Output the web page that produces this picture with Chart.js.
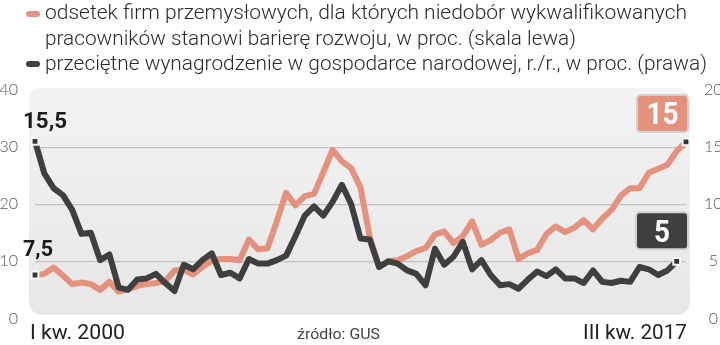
<!DOCTYPE html>
<html>
<head>
<meta charset="utf-8">
<script src="https://cdn.jsdelivr.net/npm/chart.js@4/dist/chart.umd.min.js"></script>
<style>
  html, body { margin: 0; padding: 0; background: #fff; }
  #wrap { position: relative; width: 720px; height: 345px; overflow: hidden;
          font-family: Roboto, 'Noto Sans', sans-serif; color: #333; }
  #c { position: absolute; left: 0; top: 0; }
  .t { position: absolute; white-space: nowrap; transform-origin: left top; }
  .lg { left: 45px; font-size: 20px; line-height: 24px; font-weight: 300; color: #2a2a2a; }
  .sw { position: absolute; left: 26px; width: 14px; height: 6px; border-radius: 3px; }
  .ax { font-size: 20px; line-height: 24px; color: #222; }
  .src { font-size: 14px; line-height: 18px; color: #444; }
</style>
</head>
<body>
<div id="wrap">
  <canvas id="c" width="720" height="345"></canvas>
  <span class="sw" style="top:11px;background:#e4917d;"></span>
  <div class="t lg" data-w="642" style="top:0;">odsetek firm przemysłowych, dla których niedobór wykwalifikowanych</div>
  <div class="t lg" data-w="531" style="top:26px;">pracowników stanowi barierę rozwoju, w proc. (skala lewa)</div>
  <span class="sw" style="top:61px;background:#3f3f3f;"></span>
  <div class="t lg" data-w="662" style="top:51px;">przeciętne wynagrodzenie w gospodarce narodowej, r./r., w proc. (prawa)</div>
  <div class="t ax" data-w="95" style="left:30px;top:320px;">I kw. 2000</div>
  <div class="t ax" data-w="104" style="left:583px;top:320px;">III kw. 2017</div>
  <div class="t src" data-w="83" style="left:297px;top:325px;">źródło: GUS</div>
</div>
<script>
// kwartały I 2000 – III 2017
const years = [2000, 2001, 2002, 2003, 2004, 2005, 2006, 2007, 2008, 2009, 2010, 2011, 2012, 2013, 2014, 2015, 2016, 2017];
const quarters = ['I', 'II', 'III', 'IV'];

// odsetek firm, dla których niedobór pracowników jest barierą (skala lewa, %)
const odsetek = [
  7.6, 7.8, 8.9, 7.5, 6.0, 6.3, 6.0, 5.0, 6.4, 4.7,
  5.1, 5.7, 6.0, 6.2, 6.5, 8.4, 8.5, 7.7, 9.0, 10.1,
  10.4, 10.4, 10.2, 13.8, 12.1, 12.3, 17.0, 22.0, 19.8, 21.4,
  21.8, 25.6, 29.5, 27.5, 26.3, 22.9, 14.2, 9.0, 10.0, 10.2,
  10.9, 11.8, 12.3, 14.7, 15.2, 13.2, 14.4, 17.0, 12.9, 13.7,
  15.0, 15.6, 10.4, 11.4, 12.0, 14.8, 16.1, 15.1, 15.9, 17.2,
  15.6, 17.5, 19.0, 21.5, 22.8, 22.8, 25.5, 26.2, 26.9, 29.3,
  30.9
];

// przeciętne wynagrodzenie r./r. (skala prawa, %), do II kw. 2017
const wynagrodzenie = [
  15.5, 12.7, 11.4, 10.8, 9.5, 7.4, 7.5, 5.1, 5.6, 2.7,
  2.5, 3.4, 3.5, 3.9, 3.1, 2.4, 4.7, 4.3, 5.1, 5.7,
  3.8, 4.0, 3.5, 5.2, 4.8, 4.8, 5.1, 5.5, 7.2, 9.0,
  9.8, 9.0, 10.2, 11.7, 10.0, 7.0, 6.9, 4.5, 5.0, 4.8,
  4.2, 3.9, 2.9, 6.1, 4.7, 5.4, 6.7, 4.3, 5.1, 3.8,
  2.9, 3.0, 2.6, 3.4, 4.1, 3.7, 4.3, 3.5, 3.5, 3.1,
  4.2, 3.2, 3.1, 3.3, 3.2, 4.5, 4.3, 3.8, 4.2, 5.0
];

const leftTicks = [0, 10, 20, 30, 40];
const rightTicks = [0, 5, 10, 15, 20];

const labels = [];
years.forEach((y) => quarters.forEach((q) => labels.push(q + ' kw. ' + y)));
labels.length = odsetek.length;

const ORANGE = '#e4917d';
const DARK = '#3f3f3f';
const FONT = "Roboto, 'Noto Sans', sans-serif";

// ściśnięcie tekstów HTML do szerokości z oryginału (krój wąski)
document.querySelectorAll('[data-w]').forEach((el) => {
  const w = el.getBoundingClientRect().width;
  el.style.transform = 'scaleX(' + (+el.dataset.w / w) + ')';
});

const endPoint = (c) => (c.dataIndex === 0 || c.dataIndex === c.dataset.data.length - 1) ? 4.8 : 0;

// szare tło wykresu z zaokrąglonymi rogami
const bgPlugin = {
  id: 'bg',
  beforeDraw(chart) {
    const { ctx, chartArea: a } = chart;
    const x0 = a.left - 6, x1 = a.right + 4, y0 = a.top - 2, y1 = a.bottom - 4;
    const g = ctx.createLinearGradient(0, y0, 0, y1);
    g.addColorStop(0, '#f3f3f3');
    g.addColorStop(1, '#e7e7e7');
    ctx.save();
    ctx.fillStyle = g;
    ctx.beginPath();
    ctx.roundRect(x0, y0, x1 - x0, y1 - y0, 12);
    ctx.fill();
    ctx.restore();
  }
};

// tekst na płótnie ściśnięty do zadanej szerokości
function narrowText(ctx, text, x, y, w, align) {
  const m = ctx.measureText(text).width;
  const sx = w / m;
  ctx.save();
  ctx.translate(align === 'center' ? x - w / 2 : x, y);
  ctx.scale(sx, 1);
  ctx.textAlign = 'left';
  ctx.fillText(text, 0, 0);
  ctx.restore();
}

function box(ctx, right, bottom, w, h, fill, text, tw) {
  ctx.save();
  ctx.beginPath();
  ctx.roundRect(right - w, bottom - h, w, h, 4);
  ctx.fillStyle = fill;
  ctx.fill();
  ctx.lineWidth = 2;
  ctx.strokeStyle = '#d0d0d0';
  ctx.stroke();
  ctx.fillStyle = '#fff';
  ctx.font = 'bold 31px ' + FONT;
  ctx.textBaseline = 'alphabetic';
  narrowText(ctx, text, right - w / 2, bottom - h / 2 + 11, tw, 'center');
  ctx.restore();
}

// opisy wartości przy punktach początkowych i końcowych
const labelPlugin = {
  id: 'labels',
  afterDatasetsDraw(chart) {
    const { ctx, chartArea: a } = chart;
    const dark = chart.getDatasetMeta(0).data;
    const orange = chart.getDatasetMeta(1).data;
    ctx.save();
    ctx.fillStyle = '#1a1a1a';
    ctx.font = 'bold 22px ' + FONT;
    ctx.textBaseline = 'alphabetic';
    narrowText(ctx, '15,5', 23, dark[0].y - 13, 44);
    narrowText(ctx, '7,5', 23, orange[0].y - 19, 30);
    ctx.restore();
    box(ctx, a.right + 2, orange[orange.length - 1].y - 10, 51, 37, ORANGE, '15', 32);
    box(ctx, a.right + 2, dark[dark.length - 1].y - 12, 52, 37, DARK, '5', 16);
  }
};

const marker = {
  pointStyle: 'rect', pointRadius: endPoint, pointHoverRadius: endPoint,
  pointBackgroundColor: '#333', pointBorderColor: '#fafafa', pointBorderWidth: 2,
};

new Chart(document.getElementById('c'), {
  type: 'line',
  data: {
    labels,
    datasets: [
      { data: wynagrodzenie, yAxisID: 'y1', borderColor: DARK, borderWidth: 6, order: 0, ...marker },
      { data: odsetek, yAxisID: 'y', borderColor: ORANGE, borderWidth: 6, order: 1, ...marker },
    ],
  },
  options: {
    responsive: false, animation: false, devicePixelRatio: 1,
    layout: { padding: { top: 90, bottom: 25.5, left: 0, right: 0 } },
    plugins: { legend: { display: false }, tooltip: { enabled: false } },
    elements: {
      line: { tension: 0, borderJoinStyle: 'round', borderCapStyle: 'butt' },
    },
    scales: {
      x: { display: false, offset: false },
      y: {
        position: 'left', min: 0, max: 40,
        afterBuildTicks: (s) => { s.ticks = leftTicks.map((v) => ({ value: v })); },
        afterFit: (s) => { s.width = 35; },
        ticks: { padding: 17, color: '#555', font: { family: 'Lato', size: 16, weight: 300 } },
        grid: { drawTicks: false, lineWidth: 1.2, color: (c) => (c.tick && c.tick.value > 0 && c.tick.value < 40) ? '#c2c2c2' : 'rgba(0,0,0,0)' },
        border: { display: false },
      },
      y1: {
        position: 'right', min: 0, max: 20,
        afterBuildTicks: (s) => { s.ticks = rightTicks.map((v) => ({ value: v })); },
        afterFit: (s) => { s.width = 34; },
        ticks: { padding: 10, crossAlign: 'center', color: '#555', font: { family: 'Lato', size: 16, weight: 300 } },
        grid: { display: false },
        border: { display: false },
      },
    },
  },
  plugins: [bgPlugin, labelPlugin],
});
</script>
</body>
</html>
